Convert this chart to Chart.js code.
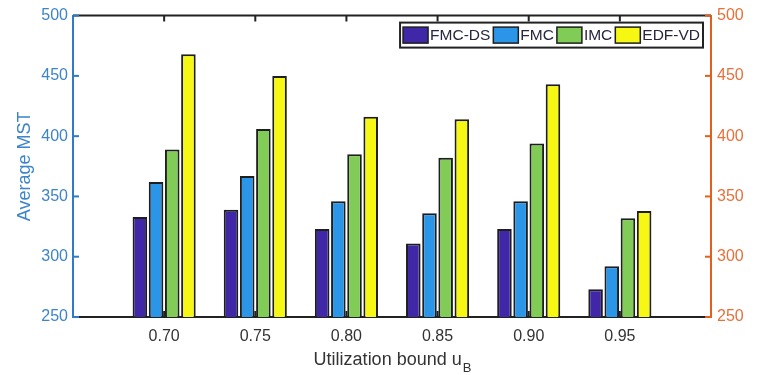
<!DOCTYPE html>
<html>
<head>
<meta charset="utf-8">
<script src="https://cdn.jsdelivr.net/npm/chart.js@4.4.1/dist/chart.umd.min.js"></script>
<style>
  html, body { margin: 0; padding: 0; background: #ffffff; }
  #wrap { width: 763px; height: 375px; position: relative; }
</style>
</head>
<body>
<div id="wrap"><canvas id="c" width="763" height="375"></canvas></div>
<script>
// ---- data ----
const categories = ['0.70', '0.75', '0.80', '0.85', '0.90', '0.95'];
const seriesNames = ['FMC-DS', 'FMC', 'IMC', 'EDF-VD'];
const fmcDS  = [333, 339, 323, 311, 323, 273];
const fmc    = [362, 367, 346, 336, 346, 292];
const imc    = [389, 406, 385, 382, 394, 332];
const edfVD  = [468, 450, 416, 414, 443, 338];
const yTicks = [250, 300, 350, 400, 450, 500];

const colors = ['#3F27A8', '#2B96E8', '#80CC57', '#F7F714'];
const FONT = "'Liberation Sans', Arial, Helvetica, sans-serif";
const BLUE = '#2F7BC6';
const BLUE_TXT = '#3D84CA';
const ORANGE = '#E25F1E';
const ORANGE_TXT = '#E8703A';

// padded category axis: one empty slot at each side (x limits one step beyond the data)
const labels = [''].concat(categories, ['']);
function pad(arr) { return [null].concat(arr, [null]); }
const allSeries = [fmcDS, fmc, imc, edfVD];

const datasets = allSeries.map((vals, i) => ({
  label: seriesNames[i],
  data: pad(vals),
  backgroundColor: colors[i],
  borderColor: '#1e1e1e',
  borderWidth: 2,
  borderSkipped: false,
  categoryPercentage: 0.71,
  barPercentage: 0.9,
  yAxisID: 'y'
}));

const decorPlugin = {
  id: 'decor',
  afterDatasetsDraw(chart) {
    const ctx = chart.ctx;
    const a = chart.chartArea;
    const xs = chart.scales.x, yl = chart.scales.y, yr = chart.scales.y2;
    ctx.save();
    // top border
    ctx.strokeStyle = '#222';
    ctx.lineWidth = 2;
    ctx.beginPath();
    ctx.moveTo(a.left, a.top); ctx.lineTo(a.right, a.top);
    ctx.stroke();
    // inward x ticks (top and bottom)
    const TL = 6;
    xs.ticks.forEach((t, i) => {
      if (!labels[i]) return;
      const px = xs.getPixelForTick(i);
      ctx.beginPath();
      ctx.moveTo(px, a.bottom); ctx.lineTo(px, a.bottom - TL);
      ctx.moveTo(px, a.top); ctx.lineTo(px, a.top + TL);
      ctx.stroke();
    });
    // inward y ticks
    ctx.strokeStyle = BLUE;
    yTicks.forEach(v => {
      const py = yl.getPixelForValue(v);
      ctx.beginPath(); ctx.moveTo(a.left, py); ctx.lineTo(a.left + TL, py); ctx.stroke();
    });
    ctx.strokeStyle = ORANGE;
    yTicks.forEach(v => {
      const py = yr.getPixelForValue(v);
      ctx.beginPath(); ctx.moveTo(a.right, py); ctx.lineTo(a.right - TL, py); ctx.stroke();
    });

    // legend (inside, top-right)
    ctx.font = '15.5px ' + FONT;
    const sw = 25, sh = 16, gapT = 2, gapN = 3, inPad = 3;
    let total = inPad;
    chart.data.datasets.forEach(ds => { total += sw + gapT + ctx.measureText(ds.label).width + gapN; });
    const boxR = a.right - 8, boxT = a.top + 7, boxH = 25;
    const boxL = boxR - total;
    ctx.fillStyle = '#fff';
    ctx.fillRect(boxL, boxT, total, boxH);
    ctx.strokeStyle = '#222';
    ctx.lineWidth = 2;
    ctx.strokeRect(boxL, boxT, total, boxH);
    let x = boxL + inPad;
    const cy = boxT + boxH / 2;
    ctx.textBaseline = 'middle';
    ctx.textAlign = 'left';
    chart.data.datasets.forEach(ds => {
      ctx.fillStyle = ds.backgroundColor;
      ctx.fillRect(x, cy - sh / 2, sw, sh);
      ctx.lineWidth = 1.5;
      ctx.strokeStyle = '#1e1e1e';
      ctx.strokeRect(x, cy - sh / 2, sw, sh);
      x += sw + gapT;
      ctx.fillStyle = '#262640';
      ctx.fillText(ds.label, x, cy + 1);
      x += ctx.measureText(ds.label).width + gapN;
    });

    // x-axis title with subscript
    const main = 'Utilization bound u', sub = 'B';
    ctx.font = '18px ' + FONT;
    const w1 = ctx.measureText(main).width;
    ctx.font = '13px ' + FONT;
    const w2 = ctx.measureText(sub).width;
    const cx = (a.left + a.right) / 2;
    const sx = cx - (w1 + w2) / 2;
    ctx.textBaseline = 'alphabetic';
    ctx.fillStyle = '#333';
    ctx.font = '18px ' + FONT;
    ctx.fillText(main, sx, 365);
    ctx.font = '13px ' + FONT;
    ctx.fillText(sub, sx + w1 + 1, 372);
    ctx.restore();
  }
};

new Chart(document.getElementById('c'), {
  type: 'bar',
  data: { labels: labels, datasets: datasets },
  plugins: [decorPlugin],
  options: {
    responsive: false,
    animation: false,
    devicePixelRatio: 1,
    layout: { padding: { top: 15, left: 0, right: 0, bottom: 0 } },
    plugins: { legend: { display: false }, tooltip: { enabled: false } },
    scales: {
      x: {
        type: 'category',
        offset: false,
        grid: { display: false, drawTicks: false },
        border: { display: true, color: '#222', width: 2 },
        ticks: { color: '#333', font: { family: FONT, size: 16 }, padding: 10, autoSkip: false, maxRotation: 0 },
        afterFit(s) { s.height = 58; }
      },
      y: {
        position: 'left',
        min: 250, max: 500,
        grid: { display: false, drawTicks: false },
        border: { display: true, color: BLUE, width: 2 },
        ticks: { stepSize: 50, color: BLUE_TXT, font: { family: FONT, size: 16 }, padding: 5 },
        title: { display: true, text: 'Average MST', color: BLUE_TXT, font: { family: FONT, size: 18 }, padding: { top: 14, bottom: 0 } },
        afterFit(s) { s.width = 73; }
      },
      y2: {
        position: 'right',
        min: 250, max: 500,
        grid: { display: false, drawTicks: false },
        border: { display: true, color: ORANGE, width: 2 },
        ticks: { stepSize: 50, color: ORANGE_TXT, font: { family: FONT, size: 16 }, padding: 6 },
        afterFit(s) { s.width = 52; }
      }
    }
  }
});
</script>
</body>
</html>
